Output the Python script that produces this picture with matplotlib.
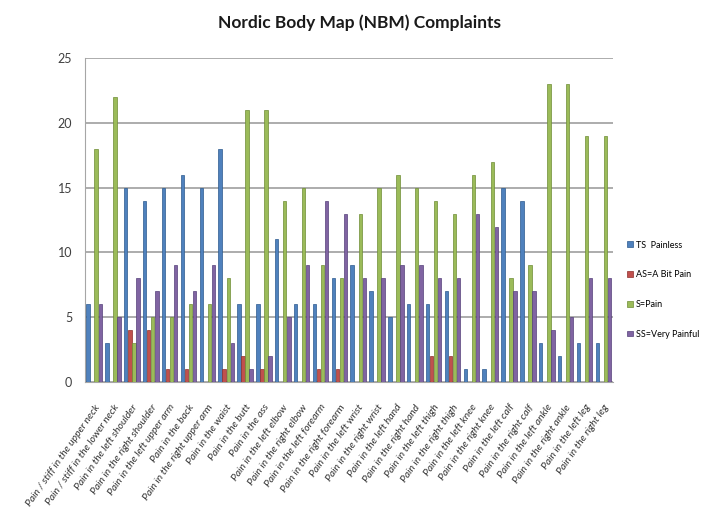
import matplotlib.pyplot as plt
import numpy as np

plt.rcParams['font.family'] = ['Lato', 'DejaVu Sans']

categories = [
    "Pain / stiff in the upper neck", "Pain / stiff in the lower neck",
    "Pain in the left shoulder", "Pain in the right shoulder",
    "Pain in the left upper arm", "Pain in the back",
    "Pain in the right upper arm", "Pain in the waist",
    "Pain in the butt", "Pain in the ass",
    "Pain in the left elbow", "Pain in the right elbow",
    "Pain in the left forearm", "Pain in the right forearm",
    "Pain in the left wrist", "Pain in the right wrist",
    "Pain in the left hand", "Pain in the right hand",
    "Pain in the left thigh", "Pain in the right thigh",
    "Pain in the left knee", "Pain in the right knee",
    "Pain in the left calf", "Pain in the right calf",
    "Pain in the left ankle", "Pain in the right ankle",
    "Pain in the left leg", "Pain in the right leg",
]

ts_painless = [6, 3, 15, 14, 15, 16, 15, 18, 6, 6, 11, 6, 6, 8, 9, 7, 5, 6, 6, 7, 1, 1, 15, 14, 3, 2, 3, 3]
as_bit_pain = [0, 0, 4, 4, 1, 1, 0, 1, 2, 1, 0, 0, 1, 1, 0, 0, 0, 0, 2, 2, 0, 0, 0, 0, 0, 0, 0, 0]
s_pain = [18, 22, 3, 5, 5, 6, 6, 8, 21, 21, 14, 15, 9, 8, 13, 15, 16, 15, 14, 13, 16, 17, 8, 9, 23, 23, 19, 19]
ss_very_painful = [6, 5, 8, 7, 9, 7, 9, 3, 1, 2, 5, 9, 14, 13, 8, 8, 9, 9, 8, 8, 13, 12, 7, 7, 4, 5, 8, 8]

series = [
    ("TS  Painless", ts_painless, "#4F81BD", "#2C5A8E"),
    ("AS=A Bit Pain", as_bit_pain, "#C0504D", "#8E2F2C"),
    ("S=Pain", s_pain, "#9BBB59", "#6E8C35"),
    ("SS=Very Painful", ss_very_painful, "#8064A2", "#56407A"),
]

fig = plt.figure(figsize=(7.06, 5.29), dpi=100)
ax = fig.add_axes([0.120, 0.278, 0.748, 0.612])

x = np.arange(len(categories))
step = 0.215
for i, (name, vals, col, edge) in enumerate(series):
    ax.bar(x + (i - 1.5) * step, vals, width=0.18, color=col,
           edgecolor=edge, linewidth=0.5, label=name, zorder=3)

ax.set_xlim(-0.5, len(categories) - 0.5)
ax.set_ylim(0, 25)
ax.set_yticks([0, 5, 10, 15, 20, 25])
ax.yaxis.grid(True, color="#A6A6A6", linewidth=1.3, zorder=0)
ax.tick_params(axis="y", length=0, pad=9, labelsize=9, labelcolor="#404040")
ax.tick_params(axis="x", length=0, pad=15)
ax.set_xticks(x)
ax.set_xticklabels(categories, rotation=55, ha="right", rotation_mode="anchor",
                   fontsize=7.5, style="italic", color="#333333")
for s in ["top", "right"]:
    ax.spines[s].set_visible(False)
ax.spines["left"].set_color("#A6A6A6")
ax.spines["bottom"].set_color("#A6A6A6")

fig.text(0.509, 0.957, "Nordic Body Map (NBM) Complaints", ha="center",
         va="center", fontsize=12.5, fontweight="bold", color="#1a1a1a")

leg = ax.legend(loc="center left", bbox_to_anchor=(1.012, 0.285), frameon=False,
                fontsize=6.5, handlelength=0.6, handleheight=0.6,
                labelspacing=2.3, handletextpad=0.35)

fig.savefig("out.png", dpi=100)
